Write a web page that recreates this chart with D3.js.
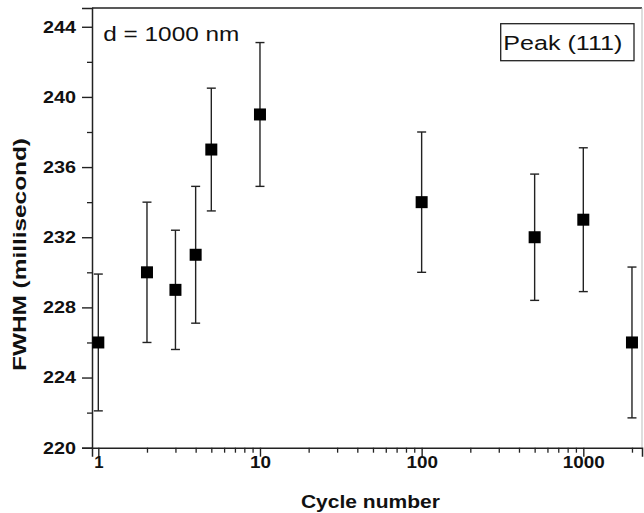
<!DOCTYPE html>
<html>
<head>
<meta charset="utf-8">
<script src="https://cdn.jsdelivr.net/npm/d3@7"></script>
<style>
  html, body { margin: 0; padding: 0; background: #fff; }
  svg { display: block; }
  text { font-family: "Liberation Sans", Arial, sans-serif; fill: #111; }
</style>
</head>
<body>
<svg id="chart" width="644" height="513"></svg>
<script>
// ---- data ----
const cycles = [1, 2, 3, 4, 5, 10, 100, 500, 1000, 2000];
const fwhm   = [226, 230, 229, 231, 237, 239, 234, 232, 233, 226];
const errs   = [3.9, 4.0, 3.4, 3.9, 3.5, 4.1, 4.0, 3.6, 4.1, 4.3];
const yMajorTicks = [220, 224, 228, 232, 236, 240, 244];
const yMinorTicks = [222, 226, 230, 234, 238, 242];
const xMajorTicks = [1, 10, 100, 1000];
const xMinorTicks = [2,3,4,5,6,7,8,9,20,30,40,50,60,70,80,90,200,300,400,500,600,700,800,900,2000];
const xTitle = "Cycle number";
const yTitle = "FWHM (millisecond)";
const noteText = "d = 1000 nm";
const legendText = "Peak (111)";

(function () {
// ---- layout ----
const pL = 92, pR = 642, pT = 8, pB = 447.7;
const svg = d3.select("#chart");

const x = d3.scaleLog().domain([0.914, 2307]).range([pL, pR]);
const y = d3.scaleLinear().domain([220, 245.07]).range([pB, pT]);

// frame (top and right)
svg.append("line").attr("x1", pL).attr("x2", pR).attr("y1", pT).attr("y2", pT)
  .attr("stroke", "#222").attr("stroke-width", 1.5);
svg.append("line").attr("x1", pR).attr("x2", pR).attr("y1", pT).attr("y2", pB)
  .attr("stroke", "#bbb").attr("stroke-width", 1);

// minor axes
svg.append("g").attr("transform", `translate(0,${pB})`)
  .call(d3.axisBottom(x).tickValues(xMinorTicks).tickFormat("").tickSize(5))
  .call(g => g.select(".domain").remove())
  .selectAll("line").attr("stroke", "#222").attr("stroke-width", 1.3);
svg.append("g").attr("transform", `translate(${pL},0)`)
  .call(d3.axisLeft(y).tickValues(yMinorTicks).tickFormat("").tickSize(5))
  .call(g => g.select(".domain").remove())
  .selectAll("line").attr("stroke", "#222").attr("stroke-width", 1.3);

// major x axis
const gx = svg.append("g").attr("transform", `translate(0,${pB})`)
  .call(d3.axisBottom(x).tickValues(xMajorTicks).tickFormat(d3.format("d")).tickSizeOuter(0).tickSize(9).tickPadding(0));
gx.select(".domain").attr("stroke", "#222").attr("stroke-width", 1.5);
gx.selectAll(".tick line").attr("stroke", "#222").attr("stroke-width", 1.4);
gx.selectAll(".tick text")
  .attr("font-size", 16.8).attr("font-weight", "bold").attr("fill", "#111")
  .attr("y", 8.7).attr("dy", "0.71em")
  .each(function(d) {
    const s = String(d);
    if (s.length > 1) d3.select(this).attr("textLength", s.length * 10.5).attr("lengthAdjust", "spacingAndGlyphs");
  });

// major y axis
const gy = svg.append("g").attr("transform", `translate(${pL},0)`)
  .call(d3.axisLeft(y).tickValues(yMajorTicks).tickFormat(d3.format("d")).tickSizeOuter(0).tickSize(10).tickPadding(6));
gy.select(".domain").attr("stroke", "#222").attr("stroke-width", 1.5);
gy.selectAll(".tick line").attr("stroke", "#222").attr("stroke-width", 1.4);
gy.selectAll(".tick text")
  .attr("font-size", 16.8).attr("font-weight", "bold").attr("fill", "#111")
  .attr("textLength", 33).attr("lengthAdjust", "spacingAndGlyphs");

// data
const data = cycles.map((c, i) => ({ c, v: fwhm[i], e: errs[i] }));
const capW = 9, mSize = 12;
const eb = svg.append("g").selectAll("g").data(data).join("g");
eb.append("line")
  .attr("x1", d => x(d.c)).attr("x2", d => x(d.c))
  .attr("y1", d => y(d.v + d.e)).attr("y2", d => y(d.v - d.e))
  .attr("stroke", "#222").attr("stroke-width", 1.4);
eb.append("line")
  .attr("x1", d => x(d.c) - capW / 2).attr("x2", d => x(d.c) + capW / 2)
  .attr("y1", d => y(d.v + d.e)).attr("y2", d => y(d.v + d.e))
  .attr("stroke", "#222").attr("stroke-width", 1.4);
eb.append("line")
  .attr("x1", d => x(d.c) - capW / 2).attr("x2", d => x(d.c) + capW / 2)
  .attr("y1", d => y(d.v - d.e)).attr("y2", d => y(d.v - d.e))
  .attr("stroke", "#222").attr("stroke-width", 1.4);
svg.append("g").selectAll("rect").data(data).join("rect")
  .attr("x", d => x(d.c) - mSize / 2).attr("y", d => y(d.v) - mSize / 2)
  .attr("width", mSize).attr("height", mSize).attr("fill", "#000");

// titles
svg.append("text").attr("x", 370.4).attr("y", 508).attr("text-anchor", "middle")
  .attr("font-size", 18.5).attr("font-weight", "bold")
  .attr("textLength", 139).attr("lengthAdjust", "spacingAndGlyphs").text(xTitle);
svg.append("text").attr("transform", "translate(25.7,254.5) rotate(-90)").attr("text-anchor", "middle")
  .attr("font-size", 18.5).attr("font-weight", "bold")
  .attr("textLength", 233).attr("lengthAdjust", "spacingAndGlyphs").text(yTitle);

// note
svg.append("text").attr("x", 103.3).attr("y", 41).attr("font-size", 20)
  .attr("textLength", 136).attr("lengthAdjust", "spacingAndGlyphs").text(noteText);

// legend box
svg.append("rect").attr("x", 500.7).attr("y", 23.7).attr("width", 133.3).attr("height", 37)
  .attr("fill", "#fff").attr("stroke", "#222").attr("stroke-width", 1.3);
svg.append("text").attr("x", 503.3).attr("y", 49.7).attr("font-size", 20.5)
  .attr("textLength", 119).attr("lengthAdjust", "spacingAndGlyphs").text(legendText);
})();
</script>
</body>
</html>
